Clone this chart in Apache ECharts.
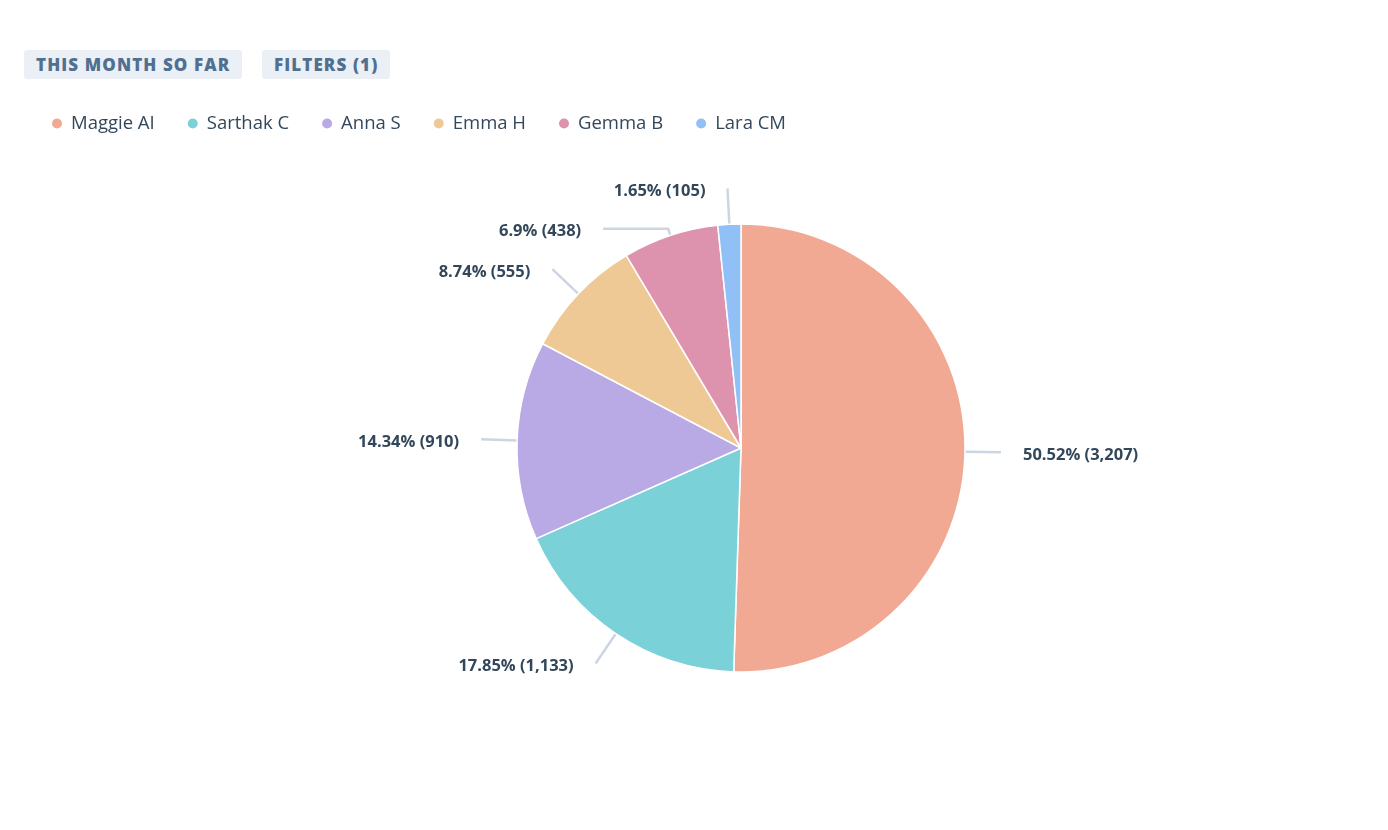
<!DOCTYPE html>
<html>
<head>
<meta charset="utf-8">
<script src="https://cdn.jsdelivr.net/npm/echarts@6/dist/echarts.min.js"></script>
<style>
  html, body { margin: 0; padding: 0; background: #fff; }
  #chart { width: 1388px; height: 830px; }
  .pill {
    position: absolute; top: 50px; height: 29px; line-height: 29px;
    background: #eaf0f6; border-radius: 3px; color: #516f90;
    font-family: "Open Sans", "Noto Sans", sans-serif; font-weight: 800;
    font-size: 17px; letter-spacing: 1.1px; padding: 0 12px 0 12px;
  }
</style>
</head>
<body>
<div class="pill" style="left:24px;">THIS MONTH SO FAR</div>
<div class="pill" style="left:262px;">FILTERS (1)</div>
<div id="chart"></div>
<script>
const names = ['Maggie AI', 'Sarthak C', 'Anna S', 'Emma H', 'Gemma B', 'Lara CM'];
const counts = [3207, 1133, 910, 555, 438, 105];
const colors = ['#f2a993', '#7bd1d8', '#b9a9e4', '#eec996', '#dd93ae', '#90c0f5'];

const chart = echarts.init(document.getElementById('chart'));
const fontFamily = '"Open Sans", "Noto Sans", sans-serif';

// the small Gemma slice gets a short bend and long horizontal line, like the original
const lineOverrides = { 'Gemma B': { length: 7, length2: 65 } };

const option = {
  color: colors,
  animation: false,
  legend: {
    left: 45,
    top: 109,
    icon: 'circle',
    itemWidth: 12,
    itemHeight: 12,
    itemGap: 31,
    data: names,
    textStyle: {
      color: '#33475b',
      fontSize: 18.5,
      fontFamily: fontFamily,
      padding: [0, 0, 0, 3]
    }
  },
  series: [{
    type: 'pie',
    center: [741, 448],
    radius: [0, 224],
    startAngle: 90,
    clockwise: true,
    avoidLabelOverlap: false,
    itemStyle: { borderColor: '#fff', borderWidth: 1.5 },
    label: {
      show: true,
      position: 'outside',
      distanceToLabelLine: 22,
      color: '#33475b',
      fontSize: 16.5,
      fontWeight: 'bold',
      fontFamily: fontFamily,
      formatter: (p) => p.percent + '% (' + p.value.toLocaleString('en-US') + ')'
    },
    labelLayout: { dy: 3 },
    labelLine: {
      show: true,
      length: 36,
      length2: 0,
      lineStyle: { color: '#cbd6e2', width: 2.5 }
    },
    emphasis: { disabled: true },
    data: names.map((n, i) => ({
      name: n,
      value: counts[i],
      labelLine: lineOverrides[n]
    }))
  }]
};
chart.setOption(option);
</script>
</body>
</html>
